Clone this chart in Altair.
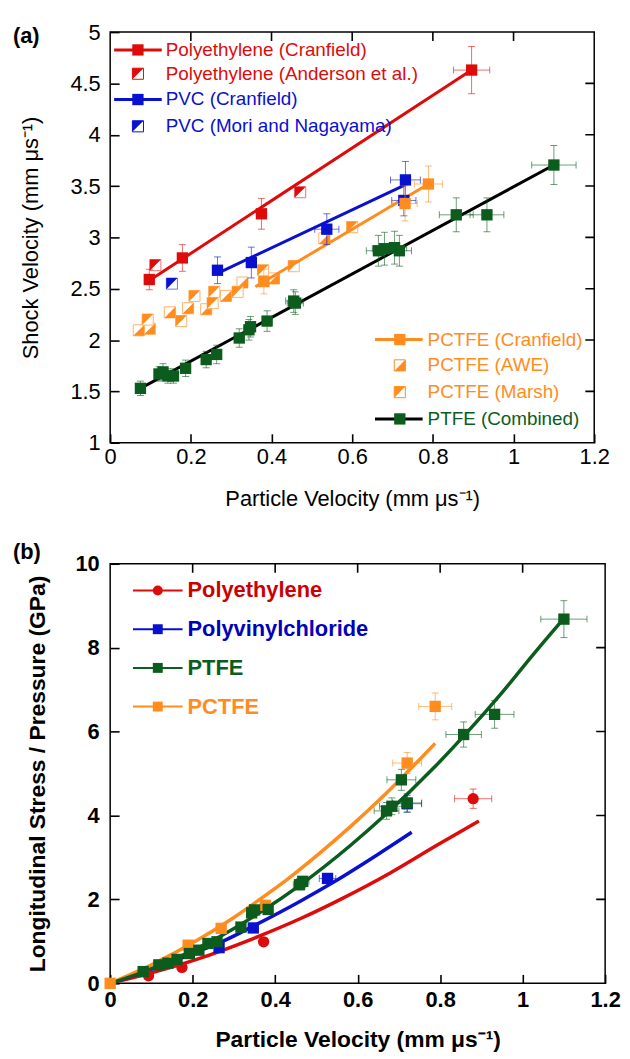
import altair as alt
import pandas as pd

FONT = "Liberation Sans"
RED = "#de0b0b"
BLUE = "#0a10cf"
ORANGE = "#ff8c1e"
GREEN = "#0b5c1d"
BLACK = "#000000"

# ---------------- Panel (a): shock velocity vs particle velocity ----------------
pe_cran_u = [0.097, 0.179, 0.375, 0.896]
pe_cran_us = [2.59, 2.80, 3.23, 4.63]
pe_cran_ue = [0.010, 0.010, 0.012, 0.045]
pe_cran_use = [0.10, 0.13, 0.15, 0.23]
pe_fit_u = [0.097, 0.896]
pe_fit_us = [2.58, 4.63]

pe_and_u = [0.112, 0.471]
pe_and_us = [2.73, 3.44]

pvc_cran_u = [0.266, 0.350, 0.537, 0.728, 0.732]
pvc_cran_us = [2.68, 2.755, 3.08, 3.36, 3.56]
pvc_cran_ue = [0.010, 0.012, 0.030, 0.030, 0.037]
pvc_cran_use = [0.13, 0.15, 0.15, 0.15, 0.18]
pvc_fit_u = [0.266, 0.730]
pvc_fit_us = [2.65, 3.51]

pvc_mori_u = [0.153]
pvc_mori_us = [2.55]

pctfe_cran_u = [0.381, 0.731, 0.789]
pctfe_cran_us = [2.57, 3.33, 3.52]
pctfe_cran_ue = [0.012, 0.030, 0.035]
pctfe_cran_use = [0.12, 0.17, 0.175]
pctfe_fit_u = [0.360, 0.789]
pctfe_fit_us = [2.52, 3.52]

pctfe_awe_u = [0.071, 0.098, 0.148, 0.193, 0.238, 0.287, 0.328, 0.406, 0.531]
pctfe_awe_us = [2.095, 2.11, 2.27, 2.31, 2.30, 2.43, 2.56, 2.60, 2.99]
pctfe_marsh_u = [0.093, 0.176, 0.209, 0.254, 0.258, 0.316, 0.379, 0.455, 0.600]
pctfe_marsh_us = [2.20, 2.185, 2.43, 2.36, 2.47, 2.47, 2.68, 2.72, 3.10]

ptfe_u = [0.075, 0.121, 0.131, 0.143, 0.157, 0.187, 0.238, 0.264, 0.320, 0.344, 0.348,
          0.389, 0.455, 0.459, 0.665, 0.680, 0.705, 0.717, 0.858, 0.934, 1.100]
ptfe_us = [1.53, 1.67, 1.69, 1.65, 1.65, 1.725, 1.81, 1.86, 2.02, 2.10, 2.13,
           2.185, 2.38, 2.36, 2.87, 2.89, 2.90, 2.87, 3.22, 3.22, 3.705]
ptfe_ue = [0.01, 0.01, 0.01, 0.01, 0.01, 0.01, 0.01, 0.012, 0.012, 0.012, 0.012,
           0.012, 0.02, 0.02, 0.03, 0.03, 0.03, 0.03, 0.042, 0.042, 0.055]
ptfe_use = [0.07, 0.07, 0.08, 0.07, 0.07, 0.08, 0.08, 0.09, 0.09, 0.10, 0.10,
            0.10, 0.11, 0.11, 0.15, 0.16, 0.16, 0.15, 0.165, 0.165, 0.19]
ptfe_fit_u = [0.075, 1.100]
ptfe_fit_us = [1.53, 3.705]

# ---------------- Panel (b): stress vs particle velocity ----------------
pe_p_u = [0.093, 0.174, 0.372, 0.880]
pe_p = [0.18, 0.38, 0.99, 4.40]
pe_p_ue = [0.008, 0.008, 0.01, 0.045]
pe_p_pe = [0.05, 0.05, 0.06, 0.23]
pe_curve_u = [0.0, 0.1, 0.206, 0.35, 0.463, 0.55, 0.679, 0.792, 0.894]
pe_curve_p = [0.0, 0.25, 0.56, 1.08, 1.55, 1.96, 2.63, 3.29, 3.87]

pvc_p_u = [0.264, 0.347, 0.527, 0.720]
pvc_p = [0.85, 1.32, 2.50, 4.28]
pvc_p_ue = [0.008, 0.01, 0.02, 0.035]
pvc_p_pe = [0.05, 0.06, 0.1, 0.2]
pvc_curve_u = [0.0, 0.1, 0.2, 0.279, 0.35, 0.463, 0.543, 0.647, 0.731]
pvc_curve_p = [0.0, 0.33, 0.71, 1.03, 1.38, 1.97, 2.42, 3.06, 3.60]

ptfe_p_u = [0.080, 0.118, 0.140, 0.162, 0.192, 0.215, 0.237, 0.259, 0.317, 0.343, 0.350,
            0.383, 0.459, 0.467, 0.670, 0.683, 0.706, 0.720, 0.857, 0.932, 1.100]
ptfe_p = [0.28, 0.44, 0.48, 0.57, 0.71, 0.79, 0.95, 0.99, 1.34, 1.68, 1.75,
          1.76, 2.35, 2.43, 4.11, 4.22, 4.85, 4.30, 5.93, 6.41, 8.68]
ptfe_p_ue = [0.006, 0.006, 0.006, 0.006, 0.006, 0.006, 0.008, 0.008, 0.01, 0.01, 0.01,
             0.01, 0.015, 0.015, 0.03, 0.03, 0.035, 0.035, 0.043, 0.047, 0.056]
ptfe_p_pe = [0.04, 0.04, 0.04, 0.05, 0.05, 0.05, 0.06, 0.06, 0.07, 0.08, 0.08,
             0.08, 0.12, 0.12, 0.2, 0.2, 0.25, 0.22, 0.3, 0.33, 0.44]
ptfe_curve_u = [0.0, 0.08, 0.16, 0.263, 0.36, 0.463, 0.583, 0.663, 0.79, 0.857, 0.95, 1.03, 1.10]
ptfe_curve_p = [0.0, 0.27, 0.60, 1.10, 1.67, 2.36, 3.29, 3.98, 5.19, 5.89, 6.93, 7.89, 8.70]

pctfe_p_u = [0.0, 0.189, 0.269, 0.376, 0.720, 0.788]
pctfe_p = [0.0, 0.91, 1.31, 1.86, 5.25, 6.60]
pctfe_p_ue = [0.0, 0.008, 0.01, 0.012, 0.035, 0.04]
pctfe_p_pe = [0.0, 0.05, 0.06, 0.08, 0.25, 0.32]
pctfe_curve_u = [0.0, 0.1, 0.215, 0.3, 0.367, 0.431, 0.503, 0.583, 0.663, 0.788]
pctfe_curve_p = [0.0, 0.44, 1.05, 1.57, 2.03, 2.49, 3.06, 3.74, 4.47, 5.72]

# tick values
a_xticks = [0, 0.2, 0.4, 0.6, 0.8, 1.0, 1.2]
a_yticks = [1, 1.5, 2, 2.5, 3, 3.5, 4, 4.5, 5]
b_xticks = [0, 0.2, 0.4, 0.6, 0.8, 1.0, 1.2]
b_yticks = [0, 2, 4, 6, 8, 10]

UL = "M-1,-1L1,-1L-1,1Z"
LR = "M1,-1L1,1L-1,1Z"

AW, AH = 488, 414
BW, BH = 499, 423
TICK = 9


def make_xy(xdom, ydom, xticks, yticks, xtitle, ytitle, bold, lab_pad_x, tit_pad_x, lab_pad_y, tit_pad_y,
            tsize, yfmt):
    fw = "bold" if bold else "normal"
    # inward ticks (negative length); label padding compensates for the tick length
    tk = dict(ticks=True, tickSize={"expr": "-%d" % TICK}, tickColor="black", tickWidth=1.6)
    xaxis = alt.Axis(values=xticks, format="~g", labelFontSize=22, labelFontWeight=fw,
                     labelPadding=lab_pad_x + TICK, title=xtitle, titleFontSize=tsize, titleFontWeight=fw,
                     titlePadding=tit_pad_x, labelFlush=False, **tk)
    yaxis = alt.Axis(values=yticks, format=yfmt, labelFontSize=22, labelFontWeight=fw,
                     labelPadding=lab_pad_y + TICK, title=ytitle, titleFontSize=tsize, titleFontWeight=fw,
                     titlePadding=tit_pad_y, labelFlush=False, **tk)
    xs = alt.Scale(domain=xdom, nice=False, zero=False)
    ys = alt.Scale(domain=ydom, nice=False, zero=False)

    def X(f):
        return alt.X(f + ":Q", scale=xs, axis=xaxis)

    def Y(f):
        return alt.Y(f + ":Q", scale=ys, axis=yaxis)
    return X, Y


def df_of(u, v, ue=None, ve=None):
    d = pd.DataFrame({"u": u, "v": v})
    if ue is not None:
        d["ue"] = ue
        d["ulo"] = d["u"] - d["ue"]
        d["uhi"] = d["u"] + d["ue"]
        d["vlo"] = d["v"] - pd.Series(ve)
        d["vhi"] = d["v"] + pd.Series(ve)
    return d


def err_layers(d, color, X, Y, cap=7):
    d = d[d["ue"] > 0]
    base = alt.Chart(d)
    op = 0.6
    return [
        base.mark_rule(color=color, strokeWidth=1, opacity=op).encode(x=X("u"), y=Y("vlo"), y2="vhi:Q"),
        base.mark_rule(color=color, strokeWidth=1, opacity=op).encode(x=X("ulo"), x2="uhi:Q", y=Y("v")),
        base.mark_tick(color=color, orient="horizontal", size=cap, thickness=1, opacity=op).encode(x=X("u"), y=Y("vlo")),
        base.mark_tick(color=color, orient="horizontal", size=cap, thickness=1, opacity=op).encode(x=X("u"), y=Y("vhi")),
        base.mark_tick(color=color, orient="vertical", size=cap, thickness=1, opacity=op).encode(x=X("ulo"), y=Y("v")),
        base.mark_tick(color=color, orient="vertical", size=cap, thickness=1, opacity=op).encode(x=X("uhi"), y=Y("v")),
    ]


def markers(d, color, X, Y, shape="square", size=130):
    return alt.Chart(d).mark_point(shape=shape, filled=True, color=color, size=size, opacity=1).encode(x=X("u"), y=Y("v"))


def hatched(d, color, tri, X, Y, size=125, outline=None):
    base = alt.Chart(d)
    return [
        base.mark_point(shape="square", filled=True, fill="white", stroke=outline or color, strokeWidth=1,
                        size=size, opacity=1).encode(x=X("u"), y=Y("v")),
        base.mark_point(shape=tri, filled=True, color=color, size=size, opacity=1).encode(x=X("u"), y=Y("v")),
    ]


def line(u, v, color, X, Y, width=3, interp="linear"):
    return alt.Chart(pd.DataFrame({"u": u, "v": v})).mark_line(
        color=color, strokeWidth=width, interpolate=interp).encode(x=X("u"), y=Y("v"), order="u:Q")


def frame_ticks(xticks, yticks, xdom, ydom, X, Y):
    # inward tick marks on the top and right sides: centred on the frame, clipped to the plot area
    dx = pd.DataFrame({"u": xticks[1:-1]})
    dx["top"] = ydom[1]
    dy = pd.DataFrame({"v": yticks[1:-1]})
    dy["rgt"] = xdom[1]
    kw = dict(color="black", size=2 * TICK, thickness=1.6, clip=True, opacity=1)
    return [
        alt.Chart(dx).mark_tick(orient="vertical", **kw).encode(x=X("u"), y=Y("top")),
        alt.Chart(dy).mark_tick(orient="horizontal", **kw).encode(x=X("rgt"), y=Y("v")),
    ]


one = pd.DataFrame({"k": [0]})


def leg_text(txt, x, y, color, size, bold=False):
    return alt.Chart(pd.DataFrame({"t": [txt]})).mark_text(
        align="left", baseline="middle", font=FONT, fontSize=size, fontWeight="bold" if bold else "normal",
        color=color).encode(text="t:N", x=alt.value(x), y=alt.value(y))


def leg_line(x1, x2, y, color, w):
    return alt.Chart(one).mark_rule(color=color, strokeWidth=w).encode(x=alt.value(x1), x2=alt.value(x2), y=alt.value(y))


def leg_mark(x, y, color, shape="square", size=130):
    return alt.Chart(one).mark_point(shape=shape, filled=True, color=color, size=size, opacity=1).encode(
        x=alt.value(x), y=alt.value(y))


def leg_hatched(x, y, color, tri, size=125):
    return [
        alt.Chart(one).mark_point(shape="square", filled=True, fill="white", stroke=color, strokeWidth=1,
                                  size=size, opacity=1).encode(x=alt.value(x), y=alt.value(y)),
        alt.Chart(one).mark_point(shape=tri, filled=True, color=color, size=size, opacity=1).encode(
            x=alt.value(x), y=alt.value(y)),
    ]


# ---------------- build panel (a) ----------------
Xa, Ya = make_xy([0, 1.2], [1, 5], a_xticks, a_yticks, "Particle Velocity (mm μs⁻¹)",
                 "Shock Velocity (mm μs⁻¹)", False, 4, 21, 10, 28, 22, "~g")

la = []
la += hatched(df_of(pctfe_awe_u, pctfe_awe_us), ORANGE, LR, Xa, Ya, outline="#ffb36b")
la += hatched(df_of(pctfe_marsh_u, pctfe_marsh_us), ORANGE, UL, Xa, Ya, outline="#ffb36b")
la += hatched(df_of(pe_and_u, pe_and_us), RED, UL, Xa, Ya, outline="#f07070")
la += hatched(df_of(pvc_mori_u, pvc_mori_us), BLUE, UL, Xa, Ya, outline="#6a70f0")
la += [
    line(pe_fit_u, pe_fit_us, RED, Xa, Ya),
    line(pvc_fit_u, pvc_fit_us, BLUE, Xa, Ya),
    line(pctfe_fit_u, pctfe_fit_us, ORANGE, Xa, Ya),
    line(ptfe_fit_u, ptfe_fit_us, BLACK, Xa, Ya),
]
for (u, v, ue, ve, c) in [
    (pe_cran_u, pe_cran_us, pe_cran_ue, pe_cran_use, RED),
    (pvc_cran_u, pvc_cran_us, pvc_cran_ue, pvc_cran_use, BLUE),
    (pctfe_cran_u, pctfe_cran_us, pctfe_cran_ue, pctfe_cran_use, ORANGE),
    (ptfe_u, ptfe_us, ptfe_ue, ptfe_use, GREEN),
]:
    d = df_of(u, v, ue, ve)
    la += err_layers(d, c, Xa, Ya)
    la.append(markers(d, c, Xa, Ya))

la += frame_ticks(a_xticks, a_yticks, [0, 1.2], [1, 5], Xa, Ya)

# legends (a)
top_rows = [18, 42, 68, 95]
la += [leg_line(4, 52, top_rows[0], RED, 3), leg_mark(28, top_rows[0], RED),
       leg_text("Polyethylene (Cranfield)", 56, top_rows[0], RED, 19)]
la += leg_hatched(28, top_rows[1], RED, UL)
la += [leg_text("Polyethylene (Anderson et al.)", 56, top_rows[1], RED, 19)]
la += [leg_line(4, 52, top_rows[2], BLUE, 3), leg_mark(28, top_rows[2], BLUE),
       leg_text("PVC (Cranfield)", 56, top_rows[2], BLUE, 19)]
la += leg_hatched(28, top_rows[3], BLUE, UL)
la += [leg_text("PVC (Mori and Nagayama)", 56, top_rows[3], BLUE, 19)]

bot_rows = [AH - 104, AH - 78, AH - 51, AH - 24]
la += [leg_line(267, 315, bot_rows[0], ORANGE, 3), leg_mark(292, bot_rows[0], ORANGE),
       leg_text("PCTFE (Cranfield)", 320, bot_rows[0], ORANGE, 19)]
la += leg_hatched(292, bot_rows[1], ORANGE, LR)
la += [leg_text("PCTFE (AWE)", 320, bot_rows[1], ORANGE, 19)]
la += leg_hatched(292, bot_rows[2], ORANGE, UL)
la += [leg_text("PCTFE (Marsh)", 320, bot_rows[2], ORANGE, 19)]
la += [leg_line(267, 315, bot_rows[3], BLACK, 3), leg_mark(292, bot_rows[3], GREEN),
       leg_text("PTFE (Combined)", 320, bot_rows[3], GREEN, 19)]

la.append(leg_text("(a)", -98, 4, BLACK, 22, bold=True))

panel_a = alt.layer(*la).properties(width=AW, height=AH)

# ---------------- build panel (b) ----------------
Xb, Yb = make_xy([0, 1.2], [0, 10], b_xticks, b_yticks, "Particle Velocity (mm μs⁻¹)",
                 "Longitudinal Stress / Pressure (GPa)", True, 6, 19, 11, 26, 23, "d")

lb = [
    line(pe_curve_u, pe_curve_p, RED, Xb, Yb, 3.5, "monotone"),
    line(pvc_curve_u, pvc_curve_p, BLUE, Xb, Yb, 3.5, "monotone"),
    line(pctfe_curve_u, pctfe_curve_p, ORANGE, Xb, Yb, 3.5, "monotone"),
    line(ptfe_curve_u, ptfe_curve_p, GREEN, Xb, Yb, 3.5, "monotone"),
]
for (u, v, ue, ve, c, sh) in [
    (pe_p_u, pe_p, pe_p_ue, pe_p_pe, RED, "circle"),
    (pvc_p_u, pvc_p, pvc_p_ue, pvc_p_pe, BLUE, "square"),
    (pctfe_p_u, pctfe_p, pctfe_p_ue, pctfe_p_pe, ORANGE, "square"),
    (ptfe_p_u, ptfe_p, ptfe_p_ue, ptfe_p_pe, GREEN, "square"),
]:
    d = df_of(u, v, ue, ve)
    lb += err_layers(d, c, Xb, Yb)
    lb.append(markers(d, c, Xb, Yb, shape=sh))

lb += frame_ticks(b_xticks, b_yticks, [0, 1.2], [0, 10], Xb, Yb)

b_rows = [27, 66, 105, 144]
b_leg = [("Polyethylene", RED, "#cc0000", "circle"),
         ("Polyvinylchloride", BLUE, "#0000bb", "square"),
         ("PTFE", GREEN, GREEN, "square"),
         ("PCTFE", ORANGE, ORANGE, "square")]
for (lab, c, tc, sh), yy in zip(b_leg, b_rows):
    lb += [leg_line(23, 73, yy, c, 2), leg_mark(48, yy, c, shape=sh, size=100),
           leg_text(lab, 78, yy, tc, 22, bold=True)]

lb.append(leg_text("(b)", -98, -12, BLACK, 22, bold=True))

panel_b = alt.layer(*lb).properties(width=BW, height=BH)

chart = alt.vconcat(panel_a, panel_b, spacing=30).properties(
    padding={"left": 4, "top": 8, "right": 0, "bottom": 0}
).configure_view(stroke="black", strokeWidth=1.5).configure_axis(
    grid=False, domain=False, labelFont=FONT, titleFont=FONT,
    labelColor="black", titleColor="black"
).configure_text(font=FONT)

chart.save("out.html", embed_options={"renderer": "svg", "actions": False})
